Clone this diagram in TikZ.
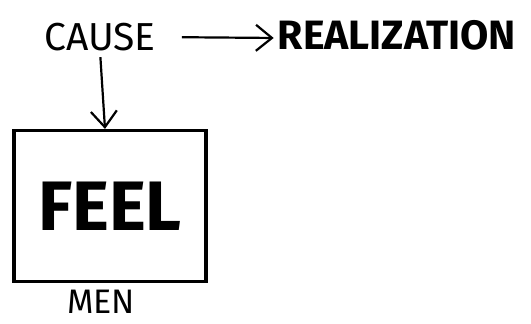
\documentclass[tikz,border=0pt]{standalone}
\usepackage{fontspec}
\setmainfont{Fira Sans}
\usetikzlibrary{arrows.meta}
\begin{document}
\begin{tikzpicture}[
    x=1pt, y=-1pt,
    word/.style={inner sep=0pt, font=\fontsize{39}{39}\selectfont},
    box/.style={draw, line width=3.2pt, minimum width=192pt, minimum height=151pt, align=center, font=\fontsize{70}{70}\selectfont\bfseries},
    arrow/.style={line width=2.2pt, -{Straight Barb[length=16pt,width=26pt]}}
]
\useasboundingbox (0,0) rectangle (531,324);
\node[word] (cause) at (100,37) {CAUSE};
\node[word, font=\fontsize{41}{41}\selectfont\bfseries] (realization) at (397,35) {REALIZATION};
\node[box] (feel) at (110,206) {FEEL};
\node[word, font=\fontsize{34}{34}\selectfont] (men) at (101,302) {MEN};
\draw[arrow, shorten <=26pt, shorten >=4pt] (cause.east) -- ([yshift=-3pt]realization.west);
\draw[arrow, shorten <=6pt] (cause.south) -- ([xshift=-5pt]feel.north);
\end{tikzpicture}
\end{document}
